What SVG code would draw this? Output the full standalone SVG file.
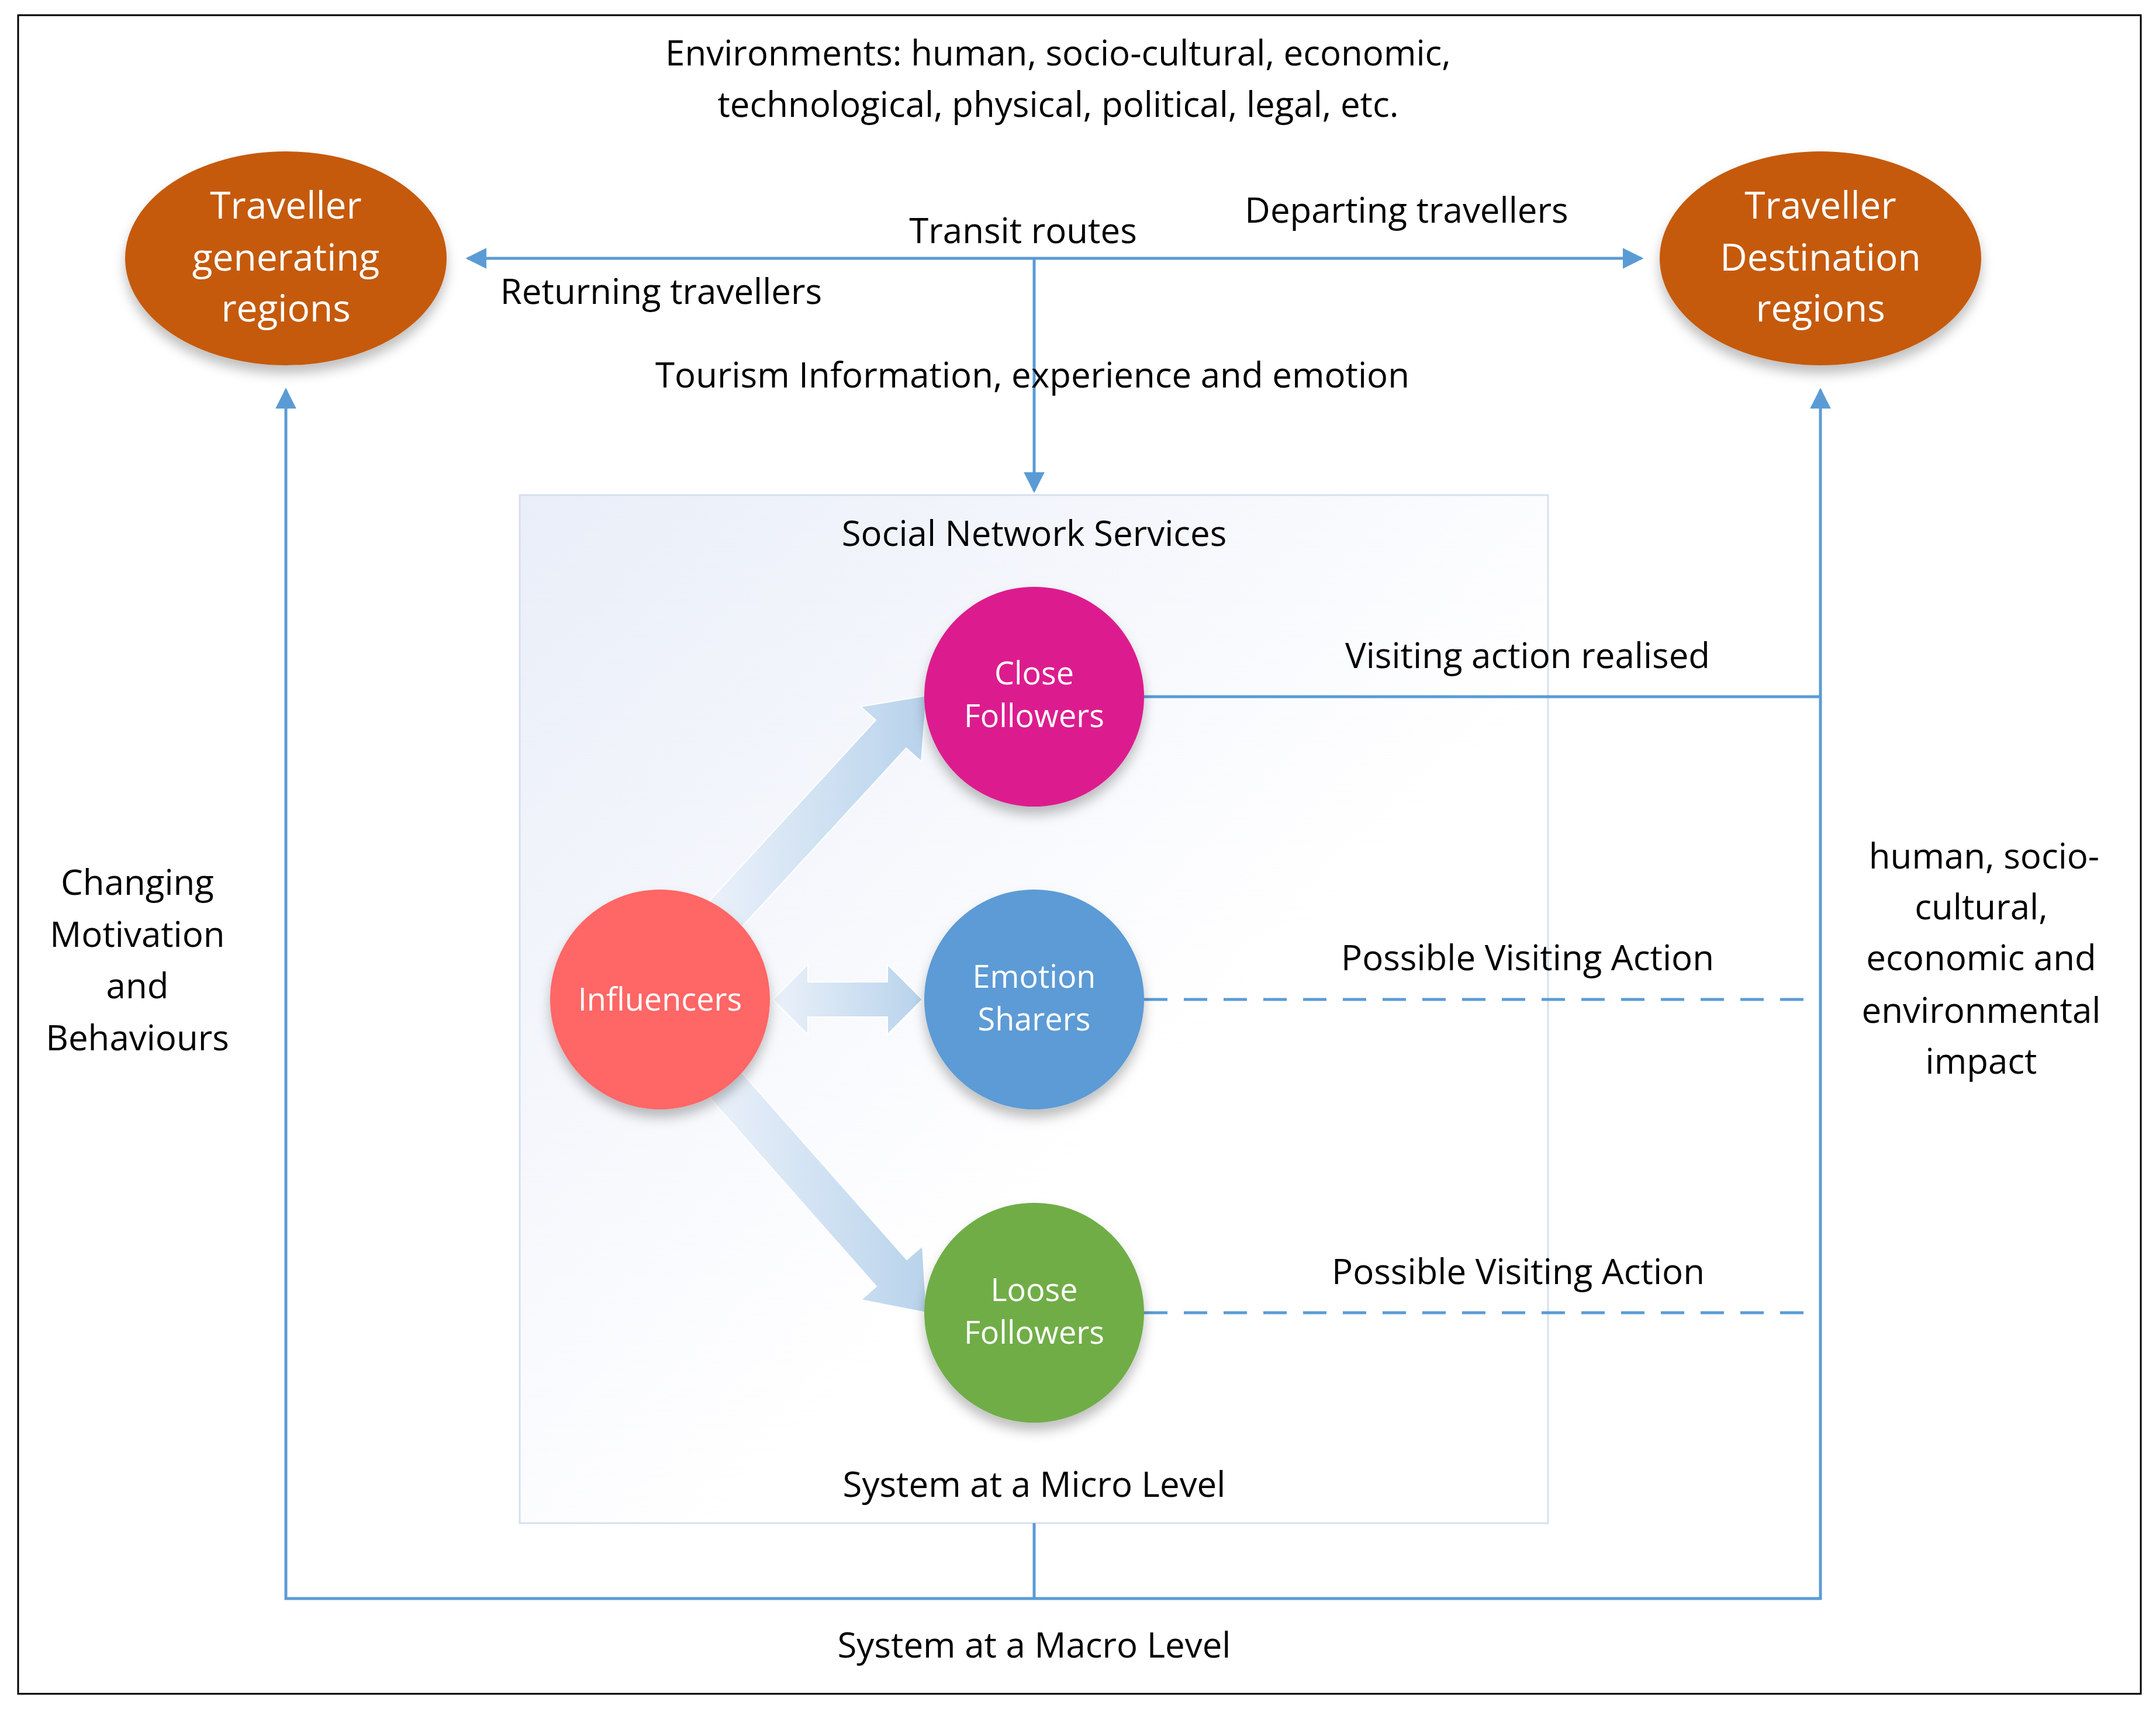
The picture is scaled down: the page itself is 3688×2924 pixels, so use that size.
<svg xmlns="http://www.w3.org/2000/svg" width="3688" height="2924" viewBox="0 0 3688 2924">
<defs>
<style>
text{font-family:"Open Sans","Noto Sans",sans-serif;fill:#000;text-anchor:middle}
.t{font-size:60px}
.w{fill:#fff;font-size:54px}
.we{fill:#fff;font-size:64px}
.ln{stroke:#5B9BD5;stroke-width:5;fill:none}
.dash{stroke-dasharray:40 28}
.blk{fill:url(#ga);stroke:#fff;stroke-width:2;opacity:0.9}
</style>
<marker id="ah" viewBox="0 0 10 10" refX="10" refY="5" markerWidth="7" markerHeight="7" markerUnits="userSpaceOnUse" orient="auto-start-reverse"><path d="M0,0L10,5L0,10z" fill="#5B9BD5"/></marker>
<marker id="a" viewBox="0 0 10 10" refX="9" refY="5" markerWidth="36" markerHeight="36" markerUnits="userSpaceOnUse" orient="auto-start-reverse"><path d="M0,0L10,5L0,10z" fill="#5B9BD5"/></marker>
<linearGradient id="bg" x1="0" y1="0" x2="1" y2="1"><stop offset="0" stop-color="#E9EEF8"/><stop offset="0.6" stop-color="#FFFFFF"/></linearGradient>
<linearGradient id="ga" x1="0" y1="0" x2="1" y2="0"><stop offset="0" stop-color="#EAF1FA"/><stop offset="1" stop-color="#B1CFEA"/></linearGradient>
<filter id="sh" x="-20%" y="-20%" width="140%" height="150%"><feDropShadow dx="0" dy="14" stdDeviation="10" flood-color="#000" flood-opacity="0.25"/></filter>
</defs>
<rect x="0" y="0" width="3688" height="2924" fill="#fff"/>
<rect x="31" y="26" width="3631" height="2872" fill="none" stroke="#000" stroke-width="3"/>
<rect id="micro" x="889" y="847" width="1759" height="1759" fill="url(#bg)" stroke="#D6E0EE" stroke-width="3"/>
<g id="connectors">
<line class="ln" x1="800" y1="442" x2="2808" y2="442" marker-start="url(#a)" marker-end="url(#a)"/>
<line class="ln" x1="1769" y1="442" x2="1769" y2="840" marker-end="url(#a)"/>
<polyline class="ln" points="489,667 489,2735 3114,2735 3114,667" marker-start="url(#a)" marker-end="url(#a)"/>
<line class="ln" x1="1769" y1="2606" x2="1769" y2="2735"/>
<polyline class="ln" points="1957,1192 3114,1192"/>
<line class="ln dash" x1="1957" y1="1710" x2="3105" y2="1710"/>
<line class="ln dash" x1="1957" y1="2246" x2="3105" y2="2246"/>
<polygon class="blk" points="1266,1589 1550,1280 1576,1303 1585,1190 1472,1209 1498,1232 1214,1541"/>
<polygon class="blk" points="1214,1878 1499,2201 1473,2224 1585,2246 1578,2132 1551,2155 1266,1832"/>
<polygon class="blk" points="1322,1710 1382,1650 1382,1680 1518,1680 1518,1650 1578,1710 1518,1770 1518,1740 1382,1740 1382,1770"/>
</g>
<g id="gen"><ellipse cx="489" cy="442" rx="275" ry="183" fill="#C55A11" filter="url(#sh)"/>
<text class="we" x="489" y="374">Traveller</text><text class="we" x="489" y="463">generating</text><text class="we" x="489" y="550">regions</text></g>
<g id="dest"><ellipse cx="3114" cy="442" rx="275" ry="183" fill="#C55A11" filter="url(#sh)"/>
<text class="we" x="3114" y="374">Traveller</text><text class="we" x="3114" y="463">Destination</text><text class="we" x="3114" y="550">regions</text></g>
<g id="close"><circle cx="1769" cy="1192" r="188" fill="#DC1A8E" filter="url(#sh)"/>
<text class="w" x="1769" y="1171">Close</text><text class="w" x="1769" y="1244">Followers</text></g>
<g id="emotion"><circle cx="1769" cy="1710" r="188" fill="#5B9BD5" filter="url(#sh)"/>
<text class="w" x="1769" y="1690">Emotion</text><text class="w" x="1769" y="1763">Sharers</text></g>
<g id="loose"><circle cx="1769" cy="2246" r="188" fill="#70AD47" filter="url(#sh)"/>
<text class="w" x="1769" y="2226">Loose</text><text class="w" x="1769" y="2299">Followers</text></g>
<g id="infl"><circle cx="1129" cy="1710" r="188" fill="#FF6666" filter="url(#sh)"/>
<text class="w" x="1129" y="1729">Influencers</text></g>
<g id="labels">
<text class="t" x="1810" y="112">Environments: human, socio-cultural, economic,</text>
<text class="t" x="1810" y="200">technological, physical, political, legal, etc.</text>
<text class="t" x="1750" y="416">Transit routes</text>
<text class="t" x="2406" y="381">Departing travellers</text>
<text class="t" x="1131" y="520">Returning travellers</text>
<text class="t" x="1766" y="663">Tourism Information, experience and emotion</text>
<text class="t" x="1769" y="934">Social Network Services</text>
<text class="t" x="2613" y="1143">Visiting action realised</text>
<text class="t" x="2613" y="1660">Possible Visiting Action</text>
<text class="t" x="2597" y="2197">Possible Visiting Action</text>
<text class="t" x="1769" y="2561">System at a Micro Level</text>
<text class="t" x="1769" y="2836">System at a Macro Level</text>
<text class="t" x="235" y="1531">Changing</text><text class="t" x="235" y="1620">Motivation</text><text class="t" x="235" y="1708">and</text><text class="t" x="235" y="1797">Behaviours</text>
<text class="t" x="3394" y="1486">human, socio-</text><text class="t" x="3389" y="1573">cultural,</text><text class="t" x="3389" y="1660">economic and</text><text class="t" x="3389" y="1750">environmental</text><text class="t" x="3389" y="1837">impact</text>
</g>
</svg>
